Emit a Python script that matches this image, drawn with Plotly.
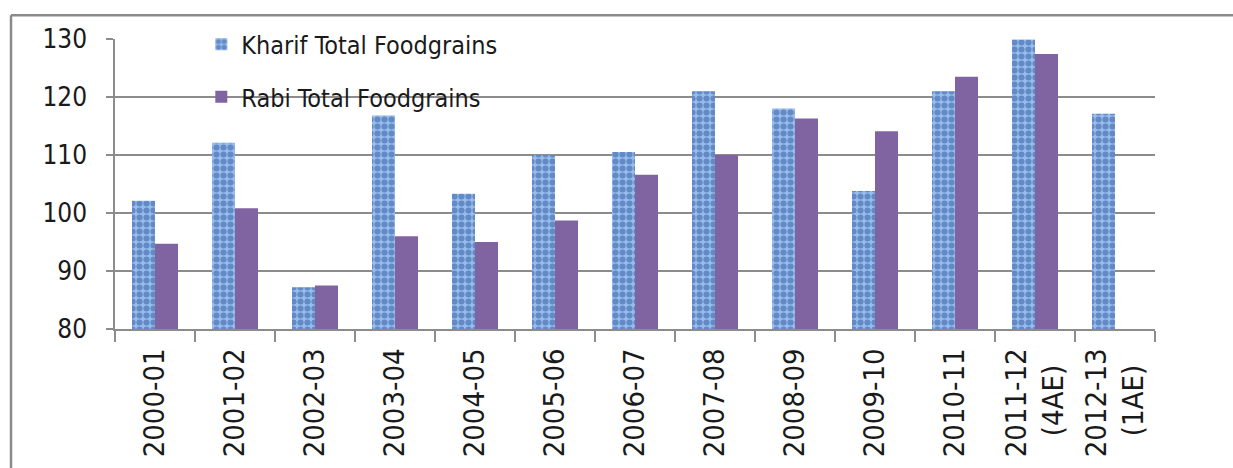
import plotly.graph_objects as go

# Foodgrain production (million tonnes) by season
NB = "\u00a0"
years = ["2000-01", "2001-02", "2002-03", "2003-04", "2004-05", "2005-06",
         "2006-07", "2007-08", "2008-09", "2009-10", "2010-11",
         "2011-12<br>(4AE)" + NB * 2, "2012-13<br>(1AE)" + NB * 2]
kharif = [102.1, 112.1, 87.2, 116.8, 103.3, 110.0, 110.5, 121.0, 118.0,
          103.8, 121.0, 129.9, 117.1]
rabi = [94.7, 100.8, 87.5, 96.0, 95.0, 98.7, 106.6, 110.0, 116.3,
        114.1, 123.5, 127.4, None]

y_ticks = [80, 90, 100, 110, 120, 130]

COND = "DejaVu Sans Condensed, DejaVu Sans, sans-serif"
GRID = "#8c8c8c"

fig = go.Figure()
fig.add_trace(go.Bar(
    name="Kharif Total Foodgrains", x=years, y=kharif,
    legendgroup="k",
    marker=dict(
        color="#96bbec",
        line=dict(width=0),
        pattern=dict(shape=".", fgcolor="#2f5a9c", bgcolor="#96bbec",
                     size=7, solidity=0.6),
    ),
))
fig.add_trace(go.Bar(
    name="Rabi Total Foodgrains", x=years, y=rabi,
    legendgroup="r",
    marker=dict(color="#8064a2", line=dict(width=0)),
))

fig.update_layout(
    width=1233, height=468,
    margin=dict(l=115, r=78, t=39, b=139),
    paper_bgcolor="white", plot_bgcolor="white",
    barmode="group", bargap=0.425, bargroupgap=0,
    showlegend=True,
    legend=dict(
        x=0.083, y=1.06, xanchor="left", yanchor="top",
        bgcolor="rgba(0,0,0,0)",
        font=dict(family=COND, size=25, color="#1a1a1a"),
        traceorder="grouped", tracegroupgap=17,
        itemsizing="constant",
    ),
    shapes=[
        # outer chart frame (top and left edges)
        dict(type="line", xref="paper", yref="paper",
             x0=-0.1, x1=1.2, y0=1.082, y1=1.082,
             line=dict(color="#8a8a8a", width=2.5)),
        dict(type="line", xref="paper", yref="paper",
             x0=-0.1, x1=-0.1, y0=1.082, y1=-0.6,
             line=dict(color="#8a8a8a", width=2.5)),
    ],
)

fig.update_xaxes(
    type="category",
    tickson="boundaries",
    ticks="outside", ticklen=11, tickcolor=GRID, tickwidth=1.5,
    showline=True, linecolor=GRID, linewidth=1.5,
    showgrid=False,
    tickangle=-90,
    tickfont=dict(family=COND, size=29, color="#1a1a1a"),
    ticklabelstandoff=6,
)
fig.update_yaxes(
    range=[80, 130],
    tickvals=y_ticks,
    ticks="outside", ticklen=7, tickcolor=GRID, tickwidth=1.5,
    showline=True, linecolor=GRID, linewidth=1.5,
    showgrid=True, gridcolor=GRID, gridwidth=1.5,
    zeroline=False,
    tickfont=dict(family=COND, size=26, color="#1a1a1a"),
    ticklabelstandoff=14,
)

fig.write_html("out.html")
